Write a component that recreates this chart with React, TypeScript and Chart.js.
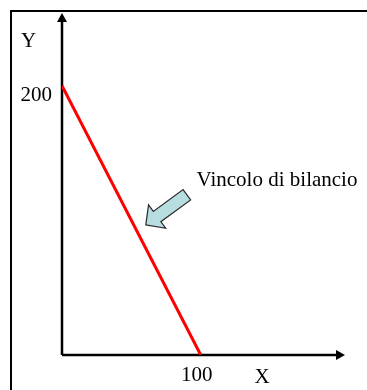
import React, { useEffect, useRef } from "react";
import { Chart, registerables } from "chart.js";

Chart.register(...registerables);

// ---- data ----
const xValues = [0, 100];
const yValues = [200, 0];
const xTickValues = [100];
const yTickValues = [200];
const xAxisTitle = "X";
const yAxisTitle = "Y";
const annotationText = "Vincolo di bilancio";
// annotation arrow (data coordinates): tip and tail
const arrowTip = [60.4, 96.7];
const arrowTail = [90, 119];
const annotationAnchor = [97, 125.5];

const FONT = "'Liberation Serif', 'Times New Roman', serif";

const decorPlugin = {
  id: "decor",
  beforeDatasetsDraw(chart: any) {
    const { ctx, chartArea, scales } = chart;
    const xs = scales.x;
    const ys = scales.y;
    const x0 = xs.getPixelForValue(0);
    const y0 = ys.getPixelForValue(0);
    ctx.save();
    // frame
    ctx.strokeStyle = "#000";
    ctx.lineWidth = 2;
    ctx.beginPath();
    ctx.moveTo(11, chart.height + 5);
    ctx.lineTo(11, 11);
    ctx.lineTo(chart.width + 5, 11);
    ctx.stroke();
    // axes
    ctx.lineWidth = 2.5;
    ctx.beginPath();
    ctx.moveTo(x0, y0);
    ctx.lineTo(x0, chartArea.top + 6);
    ctx.moveTo(x0, y0);
    ctx.lineTo(chartArea.right - 6, y0);
    ctx.stroke();
    ctx.fillStyle = "#000";
    // y arrow head
    ctx.beginPath();
    ctx.moveTo(x0, chartArea.top);
    ctx.lineTo(x0 - 5, chartArea.top + 9);
    ctx.lineTo(x0 + 5, chartArea.top + 9);
    ctx.closePath();
    ctx.fill();
    // x arrow head
    ctx.beginPath();
    ctx.moveTo(chartArea.right, y0);
    ctx.lineTo(chartArea.right - 9, y0 - 5);
    ctx.lineTo(chartArea.right - 9, y0 + 5);
    ctx.closePath();
    ctx.fill();
    // axis titles
    ctx.font = `21px ${FONT}`;
    ctx.textAlign = "center";
    ctx.textBaseline = "alphabetic";
    ctx.fillText(yAxisTitle, 28.5, 47);
    ctx.fillText(xAxisTitle, 262, 383);
    // annotation text
    ctx.textAlign = "left";
    ctx.fillText(
      annotationText,
      xs.getPixelForValue(annotationAnchor[0]),
      ys.getPixelForValue(annotationAnchor[1])
    );
    // block arrow
    const tx = xs.getPixelForValue(arrowTip[0]);
    const ty = ys.getPixelForValue(arrowTip[1]);
    const ex = xs.getPixelForValue(arrowTail[0]);
    const ey = ys.getPixelForValue(arrowTail[1]);
    const len = Math.hypot(ex - tx, ey - ty);
    const ux = (ex - tx) / len;
    const uy = (ey - ty) / len;
    const px = -uy;
    const py = ux;
    const headLen = 14;
    const headW = 14.5;
    const shaftW = 6.4;
    const bx = tx + ux * headLen;
    const by = ty + uy * headLen;
    ctx.beginPath();
    ctx.moveTo(tx, ty);
    ctx.lineTo(bx + px * headW, by + py * headW);
    ctx.lineTo(bx + px * shaftW, by + py * shaftW);
    ctx.lineTo(ex + px * shaftW, ey + py * shaftW);
    ctx.lineTo(ex - px * shaftW, ey - py * shaftW);
    ctx.lineTo(bx - px * shaftW, by - py * shaftW);
    ctx.lineTo(bx - px * headW, by - py * headW);
    ctx.closePath();
    ctx.fillStyle = "#b7dde1";
    ctx.fill();
    ctx.strokeStyle = "#2a2a2a";
    ctx.lineWidth = 1.2;
    ctx.stroke();
    ctx.restore();
  },
};

export default function App() {
  const canvasRef = useRef<HTMLCanvasElement | null>(null);

  useEffect(() => {
    if (!canvasRef.current) return;
    const chart = new Chart(canvasRef.current, {
      type: "scatter",
      data: {
        datasets: [
          {
            data: xValues.map((x, i) => ({ x, y: yValues[i] })),
            showLine: true,
            borderColor: "#ff0000",
            borderWidth: 3,
            pointRadius: 0,
            fill: false,
          },
        ],
      },
      options: {
        animation: false,
        responsive: true,
        maintainAspectRatio: false,
        layout: { padding: { left: 0, top: 13, right: 22, bottom: 0 } },
        plugins: { legend: { display: false }, tooltip: { enabled: false } },
        scales: {
          x: {
            type: "linear",
            min: 0,
            max: 204,
            grid: { display: false, drawTicks: false },
            border: { display: false },
            ticks: {
              color: "#000",
              font: { family: FONT, size: 21 },
              padding: 8,
              labelOffset: -4,
              autoSkip: false,
              maxRotation: 0,
            },
            afterBuildTicks: (s: any) => {
              s.ticks = xTickValues.map((v) => ({ value: v }));
            },
            afterFit: (s: any) => {
              s.height = 35;
              s.paddingLeft = 0;
              s.paddingRight = 0;
              s.paddingTop = 0;
              s.paddingBottom = 0;
            },
          },
          y: {
            type: "linear",
            min: 0,
            max: 254,
            grid: { display: false, drawTicks: false },
            border: { display: false },
            ticks: {
              color: "#000",
              font: { family: FONT, size: 21 },
              padding: 10,
              labelOffset: 10,
              autoSkip: false,
            },
            afterBuildTicks: (s: any) => {
              s.ticks = yTickValues.map((v) => ({ value: v }));
            },
            afterFit: (s: any) => {
              s.width = 62;
              s.paddingLeft = 0;
              s.paddingRight = 0;
              s.paddingTop = 0;
              s.paddingBottom = 0;
            },
          },
        },
      },
      plugins: [decorPlugin],
    });
    return () => chart.destroy();
  }, []);

  return (
    <div style={{ position: "absolute", left: 0, top: 0, width: 367, height: 390, background: "#fff" }}>
      <canvas ref={canvasRef} />
    </div>
  );
}
